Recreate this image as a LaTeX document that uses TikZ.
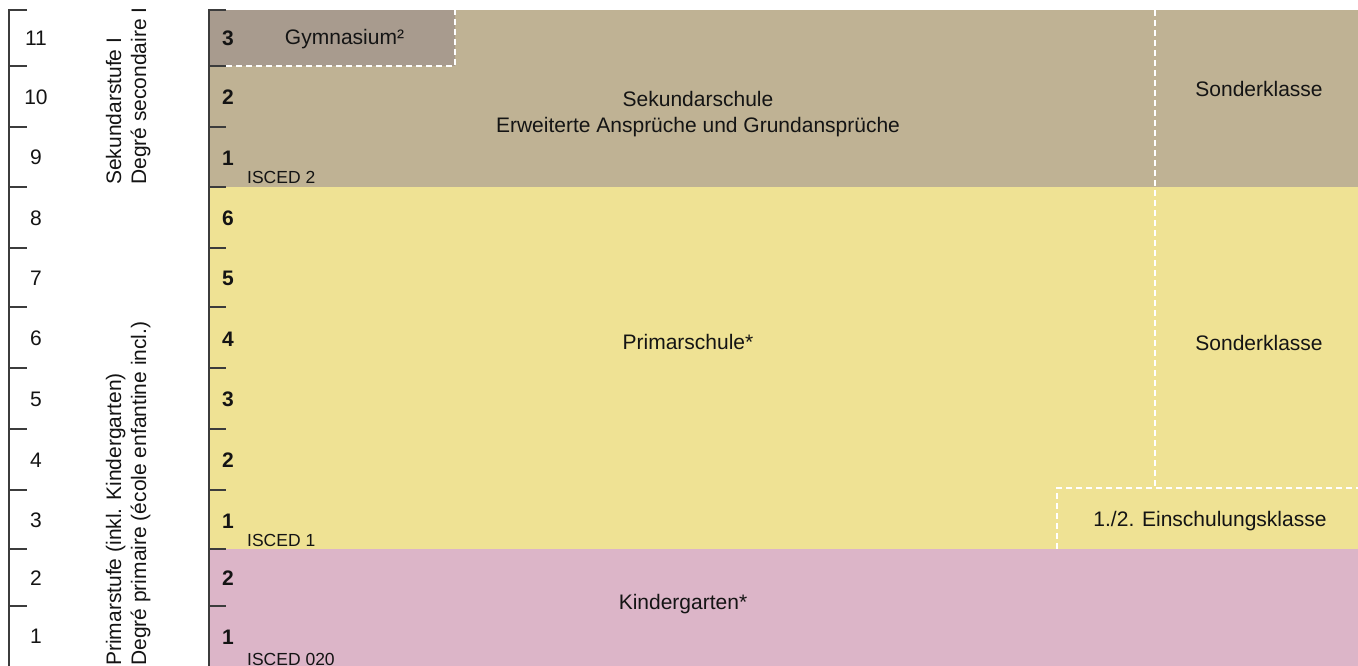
\documentclass[tikz,border=0pt]{standalone}
\usepackage{fontspec}
\setmainfont{Liberation Sans}
\definecolor{gym}{RGB}{168,155,142}
\definecolor{sek}{RGB}{191,178,148}
\definecolor{pri}{RGB}{239,226,148}
\definecolor{kg}{RGB}{220,181,200}
\definecolor{axc}{RGB}{60,60,60}
\definecolor{txt}{RGB}{20,20,20}
\begin{document}
\begin{tikzpicture}[x=1pt,y=-1pt,
  lbl/.style={font=\fontsize{21}{26}\selectfont, text=txt, inner sep=0pt, align=center},
  num/.style={font=\fontsize{21}{26}\selectfont\bfseries, text=txt, inner sep=0pt},
  lnum/.style={font=\fontsize{21}{26}\selectfont, text=txt, inner sep=0pt},
  isced/.style={font=\fontsize{17.5}{20}\selectfont, text=txt, inner sep=0pt, anchor=base west},
  vlbl/.style={font=\fontsize{21}{26}\selectfont, text=txt, inner sep=0pt, rotate=90, anchor=base west},
  dline/.style={white, line width=1.6pt, dash pattern=on 6pt off 4pt},
  axis/.style={draw=axc, line width=1.3pt},
]
\useasboundingbox (0,0) rectangle (1358,666);
% areas
\fill[sek] (209,10) rectangle (1358,187);
\fill[gym] (209,10) rectangle (455,66);
\fill[pri] (209,187) rectangle (1358,549);
\fill[kg] (209,549) rectangle (1358,666);
% dashed separators
\coordinate (g1) at (226,66);
\coordinate (g2) at (455,66);
\coordinate (g3) at (455,10);
\draw[dline] (g1) -- (g2) -- (g3);
\coordinate (s1) at (1155,10);
\coordinate (s2) at (1155,488);
\draw[dline] (s1) -- (s2);
\coordinate (e1) at (1057,549);
\coordinate (e2) at (1057,488);
\coordinate (e3) at (1358,488);
\draw[dline] (e1) -- (e2) -- (e3);
% axes
\coordinate (la) at (27,10);
\coordinate (lb) at (9,10);
\coordinate (lc) at (9,666);
\draw[axis] (la) -- (lb) -- (lc);
\coordinate (ma) at (226,10);
\coordinate (mb) at (209,10);
\coordinate (mc) at (209,666);
\draw[axis] (ma) -- (mb) -- (mc);
\foreach \yy in {66,127,187,248,307,368,429,490,549,606} {
  \draw[axis] (9,\yy) -- (27,\yy);
  \draw[axis] (209,\yy) -- (226,\yy);
}
% left scale numbers
\foreach \n/\yy in {11/38,10/97,9/157,8/218,7/278,6/338,5/399,4/460,3/520,2/578,1/636} {
  \node[lnum] (l\n) at (36,\yy) {\n};
}
% main numbers
\foreach \n/\lab/\yy in {a/3/38,b/2/97,c/1/158,d/6/218,e/5/278,f/4/339,g/3/399,h/2/460,i/1/521,j/2/578,k/1/637} {
  \node[num] (m\n) at (228,\yy) {\lab};
}
% ISCED labels
\node[isced] (is2) at (247,184) {ISCED 2};
\node[isced] (is1) at (247,546) {ISCED 1};
\node[isced] (is0) at (247,665) {ISCED 020};
% vertical labels
\node[vlbl] (v1) at (121,185) {Sekundarstufe I};
\node[vlbl] (v2) at (146,185) {Degré secondaire I};
\node[vlbl] (v3) at (121,666) {Primarstufe (inkl. Kindergarten)};
\node[vlbl] (v4) at (146,666) {Degré primaire (école enfantine incl.)};
% area labels
\node[lbl] (gymn) at (344.5,39.5) {Gymnasium²};
\node[lbl] (sekl) at (698,114.5) {Sekundarschule\\Erweiterte Ansprüche und Grundansprüche};
\node[lbl] (son1) at (1259,89) {Sonderklasse};
\node[lbl] (priml) at (688,342) {Primarschule*};
\node[lbl] (son2) at (1259,343) {Sonderklasse};
\node[lbl] (eins) at (1210,521.5) {1./2. Einschulungsklasse};
\node[lbl] (kgl) at (683,604) {Kindergarten*};
\end{tikzpicture}
\end{document}
